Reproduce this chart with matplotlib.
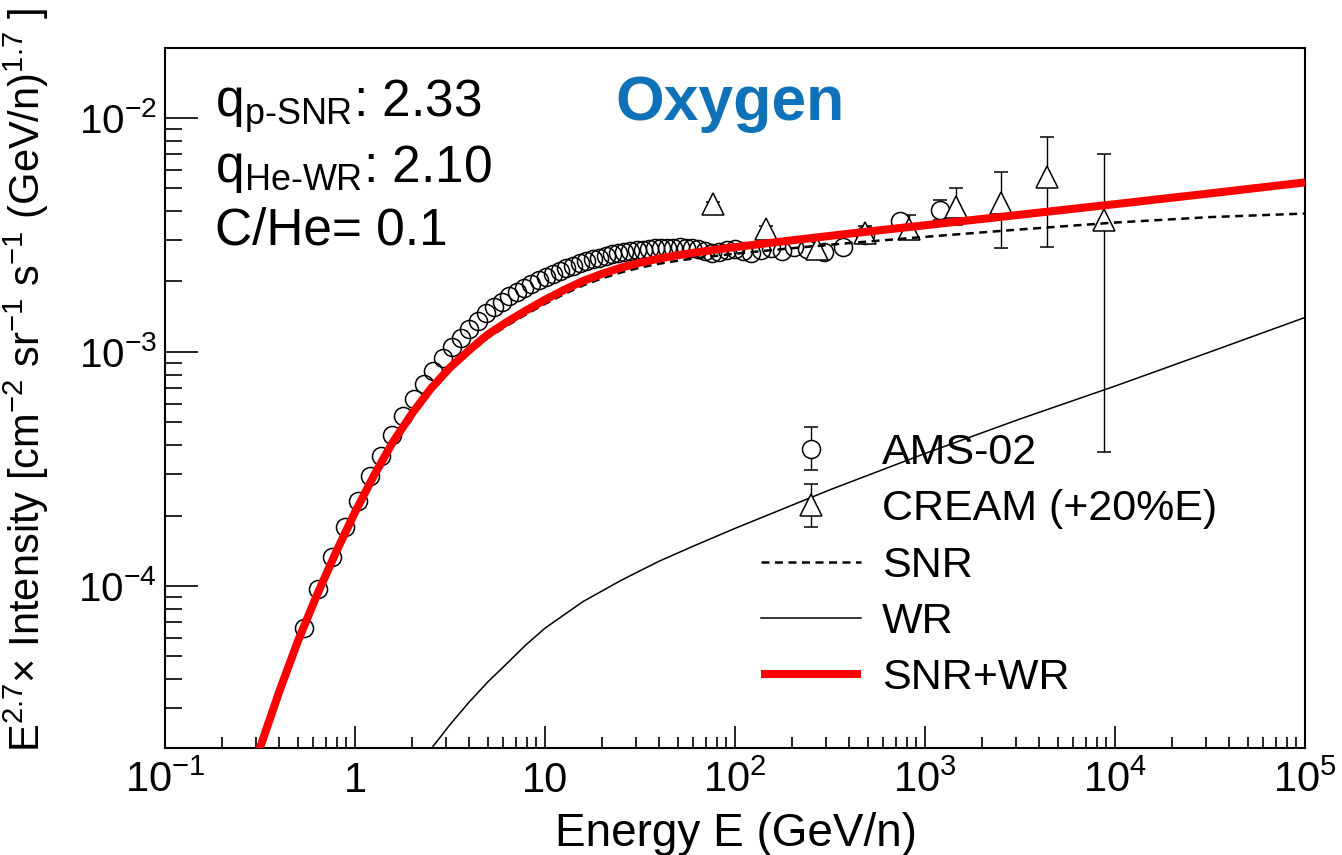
import matplotlib
matplotlib.use("Agg")
import numpy as np
import matplotlib.pyplot as plt
from matplotlib.ticker import FixedLocator, FixedFormatter, LogLocator, NullFormatter

plt.rcParams['font.family'] = ['Liberation Sans', 'DejaVu Sans']
plt.rcParams['mathtext.fontset'] = 'custom'
plt.rcParams['mathtext.rm'] = 'Liberation Sans'
plt.rcParams['mathtext.it'] = 'Liberation Sans:italic'
plt.rcParams['mathtext.bf'] = 'Liberation Sans:bold'
plt.rcParams['mathtext.default'] = 'regular'

# AMS-02 oxygen (E^2.7 weighted)
ams_E = [0.537, 0.640, 0.759, 0.890, 1.034, 1.198, 1.375, 1.573, 1.793, 2.034,
         2.296, 2.579, 2.894, 3.229, 3.596, 3.993, 4.425, 4.894, 5.388, 5.907,
         6.478, 7.098, 7.769, 8.490, 9.261, 10.08, 10.98, 11.95, 12.97, 14.07,
         15.25, 16.49, 17.84, 19.29, 20.84, 22.49, 24.26, 26.16, 28.18, 30.36,
         32.71, 35.23, 37.93, 40.83, 43.95, 47.33, 51.08, 55.08, 59.33, 64.08,
         69.58, 75.83, 82.82, 90.82, 99.82, 110.1, 122.1, 136.6, 154.1, 176.3,
         204.1, 240.6, 295.0, 372.0, 483.0, 738.0, 1200.0]
ams_I = [6.6e-5, 9.7e-5, 1.33e-4, 1.79e-4, 2.31e-4, 2.95e-4, 3.60e-4, 4.40e-4, 5.30e-4, 6.30e-4,
         7.30e-4, 8.30e-4, 9.40e-4, 1.05e-3, 1.15e-3, 1.25e-3, 1.36e-3, 1.46e-3, 1.55e-3, 1.64e-3,
         1.73e-3, 1.81e-3, 1.88e-3, 1.95e-3, 2.02e-3, 2.09e-3, 2.15e-3, 2.22e-3, 2.28e-3, 2.34e-3,
         2.39e-3, 2.44e-3, 2.49e-3, 2.53e-3, 2.57e-3, 2.61e-3, 2.64e-3, 2.67e-3, 2.70e-3, 2.72e-3,
         2.74e-3, 2.76e-3, 2.77e-3, 2.78e-3, 2.79e-3, 2.79e-3, 2.80e-3, 2.79e-3, 2.78e-3, 2.75e-3,
         2.70e-3, 2.66e-3, 2.68e-3, 2.72e-3, 2.76e-3, 2.70e-3, 2.65e-3, 2.72e-3, 2.78e-3, 2.70e-3,
         2.82e-3, 2.75e-3, 2.68e-3, 2.82e-3, 3.16e-3, 3.61e-3, 4.05e-3]
ams_rel_err = [0.02] * 63 + [0.03, 0.04, 0.06, 0.10]

# CREAM oxygen, energies shifted by +20%
cream_E = [76.6, 145.5, 270, 483, 824, 1456, 2502, 4371, 8750]
cream_I = [4.29e-3, 3.36e-3, 2.76e-3, 3.23e-3, 3.36e-3, 4.17e-3, 4.34e-3, 5.60e-3, 3.66e-3]
cream_lo = [4.20e-3, 3.28e-3, 2.68e-3, 3.05e-3, 3.06e-3, 3.50e-3, 2.77e-3, 2.82e-3, 3.75e-4]
cream_hi = [4.38e-3, 3.44e-3, 2.84e-3, 3.45e-3, 3.85e-3, 5.04e-3, 5.89e-3, 8.27e-3, 7.00e-3]

# model curves
model_E = [0.30, 0.316, 0.398, 0.501, 0.631, 0.794, 1.0, 1.26, 1.58, 2.0,
           2.51, 3.16, 3.98, 5.01, 6.31, 7.94, 10, 12.6, 15.8, 20,
           25.1, 31.6, 39.8, 50.1, 63.1, 100, 158, 251, 398, 1000,
           3162, 1e4, 31623, 1e5]
total_I = [1.80e-5, 2.03e-5, 3.51e-5, 5.82e-5, 9.16e-5, 1.393e-4, 2.065e-4, 2.97e-4, 4.11e-4, 5.47e-4,
           6.98e-4, 8.57e-4, 1.016e-3, 1.189e-3, 1.343e-3, 1.503e-3, 1.671e-3, 1.841e-3, 2.007e-3, 2.158e-3,
           2.291e-3, 2.407e-3, 2.506e-3, 2.591e-3, 2.667e-3, 2.805e-3, 2.934e-3, 3.065e-3, 3.202e-3, 3.478e-3,
           3.858e-3, 4.280e-3, 4.759e-3, 5.303e-3]
snr_I = [1.79e-5, 2.02e-5, 3.49e-5, 5.79e-5, 9.11e-5, 1.386e-4, 2.05e-4, 2.95e-4, 4.08e-4, 5.42e-4,
         6.78e-4, 8.31e-4, 9.84e-4, 1.149e-3, 1.295e-3, 1.446e-3, 1.605e-3, 1.767e-3, 1.923e-3, 2.063e-3,
         2.186e-3, 2.293e-3, 2.382e-3, 2.455e-3, 2.519e-3, 2.629e-3, 2.727e-3, 2.823e-3, 2.919e-3, 3.103e-3,
         3.338e-3, 3.572e-3, 3.769e-3, 3.903e-3]
wr_E = [2.29, 2.535, 3.16, 3.98, 5.01, 6.31, 7.94, 10, 15.8, 25.1,
        39.8, 63.1, 100, 316, 1000, 3162, 1e4, 31623, 1e5]
wr_I = [1.824e-5, 2.03e-5, 2.553e-5, 3.184e-5, 3.895e-5, 4.667e-5, 5.603e-5, 6.60e-5, 8.56e-5, 1.056e-4,
        1.275e-4, 1.503e-4, 1.762e-4, 2.576e-4, 3.681e-4, 5.17e-4, 7.145e-4, 1.0e-3, 1.404e-3]

xticks = [0.1, 1, 10, 100, 1e3, 1e4, 1e5]
xtick_labels = [r'$10^{-1}$', '1', '10', r'$10^{2}$', r'$10^{3}$', r'$10^{4}$', r'$10^{5}$']
yticks = [1e-4, 1e-3, 1e-2]
ytick_labels = [r'$10^{-4}$', r'$10^{-3}$', r'$10^{-2}$']

W, H = 1342, 855
fig = plt.figure(figsize=(W / 100, H / 100), dpi=100)
ax = fig.add_axes([165 / W, 1 - 748 / H, 1140 / W, 700 / H])
ax.set_xscale('log')
ax.set_yscale('log')
ax.set_xlim(0.1, 1e5)
ax.set_ylim(2.03e-5, 0.0199)

ams_E = np.array(ams_E)
ams_I = np.array(ams_I)
ams_err = ams_I * np.array(ams_rel_err)
hi_mask = ams_E > 300

# AMS-02: dense open rings, the separated high-energy ones hide their bar inside
ax.errorbar(ams_E[~hi_mask], ams_I[~hi_mask], fmt='o', ms=13, mfc='none', mec='black',
            mew=1.1, ecolor='black', elinewidth=1.0, capsize=0, zorder=3)
ams_h = ax.errorbar(ams_E[hi_mask], ams_I[hi_mask], yerr=ams_err[hi_mask], fmt='o', ms=13,
                    mfc='white', mec='black', mew=1.1, ecolor='black', elinewidth=1.0,
                    capsize=5, capthick=1.0, zorder=3, label='AMS-02')

cream_I = np.array(cream_I)
yerr = [cream_I - np.array(cream_lo), np.array(cream_hi) - cream_I]
cream_h = ax.errorbar(cream_E, cream_I, yerr=yerr, fmt='^', ms=16, mfc='white', mec='black',
                      mew=1.1, ecolor='black', elinewidth=1.0, capsize=5, capthick=1.0,
                      zorder=3, label='CREAM (+20%E)')

snr_line, = ax.plot(model_E, snr_I, color='black', lw=1.8, ls=(0, (3.2, 2.2)), zorder=4, label='SNR')
wr_line, = ax.plot(wr_E, wr_I, color='black', lw=1.1, zorder=4, label='WR')
tot_line, = ax.plot(model_E, total_I, color='#ff0000', lw=5.8, zorder=5, label='SNR+WR',
                    solid_capstyle='butt')

# ROOT-like frame and ticks
for s in ax.spines.values():
    s.set_linewidth(1.5)
ax.xaxis.set_major_locator(FixedLocator(xticks))
ax.xaxis.set_major_formatter(FixedFormatter(xtick_labels))
ax.xaxis.set_minor_locator(LogLocator(base=10, subs=np.arange(2, 10), numticks=20))
ax.xaxis.set_minor_formatter(NullFormatter())
ax.yaxis.set_major_locator(FixedLocator(yticks))
ax.yaxis.set_major_formatter(FixedFormatter(ytick_labels))
ax.yaxis.set_minor_locator(LogLocator(base=10, subs=np.arange(2, 10), numticks=20))
ax.yaxis.set_minor_formatter(NullFormatter())
ax.tick_params(axis='x', which='major', direction='in', length=16, width=1.2, pad=9, labelsize=30)
ax.tick_params(axis='x', which='minor', direction='in', length=8, width=1.2)
ax.tick_params(axis='y', which='major', direction='in', length=24, width=1.2, pad=6, labelsize=29)
ax.tick_params(axis='y', which='minor', direction='in', length=12, width=1.2)

fig.text(736 / W, 1 - 846 / H, 'Energy E (GeV/n)', ha='center', va='baseline', fontsize=33)
fig.text(26 / W, 1 - 8 / H,
         r'E$^{2.7}$$\times$ Intensity [cm$^{-2}$ sr$^{-1}$ s$^{-1}$ (GeV/n)$^{1.7}$ ]',
         rotation=90, ha='center', va='top', fontsize=30)

fig.text(215 / W, 1 - 117 / H, r'q$_{\mathrm{p\text{-}SNR}}$: 2.33', ha='left', va='baseline', fontsize=37)
fig.text(215 / W, 1 - 182 / H, r'q$_{\mathrm{He\text{-}WR}}$: 2.10', ha='left', va='baseline', fontsize=37)
fig.text(215 / W, 1 - 244 / H, 'C/He= 0.1', ha='left', va='baseline', fontsize=37)
fig.text(730 / W, 1 - 120 / H, 'Oxygen', ha='center', va='baseline', fontsize=45,
         fontweight='bold', color='#0f72b8')

ax.legend([ams_h, cream_h, snr_line, wr_line, tot_line],
          ['AMS-02', 'CREAM (+20%E)', 'SNR', 'WR', 'SNR+WR'],
          loc='upper left', bbox_to_anchor=(761 / W, 1 - 433 / H), bbox_transform=fig.transFigure,
          frameon=False, fontsize=31, borderpad=0, borderaxespad=0, handlelength=2.33,
          handletextpad=0.48, labelspacing=0.38, numpoints=1)

fig.savefig('out.png', dpi=100)
